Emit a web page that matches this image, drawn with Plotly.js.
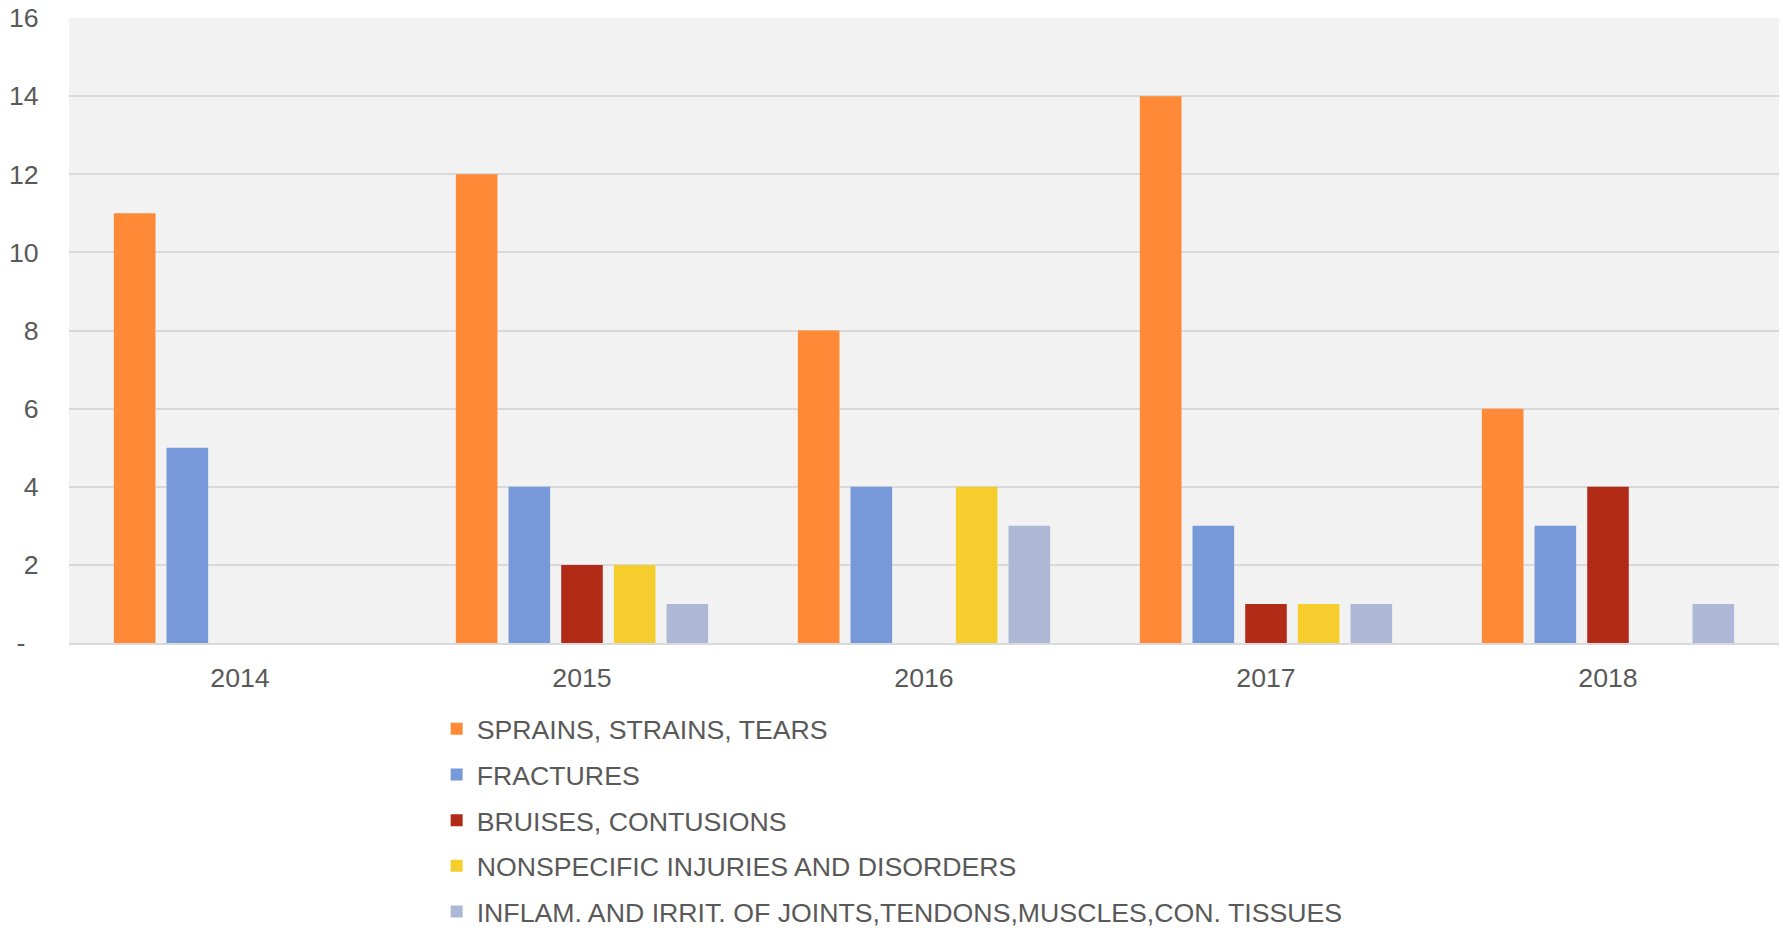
<!DOCTYPE html>
<html>
<head>
<meta charset="utf-8">
<script src="https://cdn.plot.ly/plotly-3.0.1.min.js"></script>
<style>
  html, body { margin: 0; padding: 0; background: #fff; }
  #chart { width: 1783px; height: 928px; }
</style>
</head>
<body>
<div id="chart"></div>
<script>
const years = ['2014', '2015', '2016', '2017', '2018']
const sprains = [11, 12, 8, 14, 6]
const fractures = [5, 4, 4, 3, 3]
const bruises = [0, 2, 0, 1, 4]
const nonspecific = [0, 2, 4, 1, 0]
const inflam = [0, 1, 3, 1, 1]

const seriesNames = [
  'SPRAINS, STRAINS, TEARS',
  'FRACTURES',
  'BRUISES, CONTUSIONS',
  'NONSPECIFIC INJURIES AND DISORDERS',
  'INFLAM. AND IRRIT. OF JOINTS,TENDONS,MUSCLES,CON. TISSUES',
]
const seriesValues = [sprains, fractures, bruises, nonspecific, inflam]
const colors = ['#fe8936', '#7799d9', '#b22b17', '#f5ce2e', '#acb8d6']

const yTicks = [0, 2, 4, 6, 8, 10, 12, 14, 16]
// accounting-style zero, padded like the spreadsheet does
const yTickText = ['-\u2002', '2', '4', '6', '8', '10', '12', '14', '16']

const data = seriesNames.map((name, i) => ({
  type: 'bar',
  name,
  x: years,
  y: seriesValues[i],
  marker: { color: colors[i] },
  legendgroup: 'g' + i,
}))

const layout = {
  width: 1783,
  height: 928,
  paper_bgcolor: '#ffffff',
  plot_bgcolor: '#f2f2f2',
  font: { family: 'Liberation Sans, Arial, sans-serif', size: 26.7, color: '#595959' },
  margin: { l: 69, r: 4, t: 18, b: 285, autoexpand: false },
  barmode: 'group',
  bargap: 0.23,
  bargroupgap: 0.21,
  xaxis: {
    type: 'category',
    showgrid: false,
    showline: true,
    linecolor: '#d9d9d9',
    linewidth: 2,
    ticks: 'outside',
    ticklen: 10,
    tickcolor: 'rgba(0,0,0,0)',
    tickfont: { size: 26.7, color: '#595959' },
  },
  yaxis: {
    range: [0, 16],
    tickvals: yTicks,
    ticktext: yTickText,
    showgrid: true,
    gridcolor: '#d9d9d9',
    gridwidth: 2,
    zeroline: false,
    ticks: 'outside',
    ticklen: 24,
    tickcolor: 'rgba(0,0,0,0)',
    tickfont: { size: 26.7, color: '#595959' },
  },
  showlegend: true,
  legend: {
    orientation: 'v',
    x: 0.215,
    xanchor: 'left',
    y: -0.099,
    yanchor: 'top',
    traceorder: 'grouped',
    tracegroupgap: 8,
    font: { size: 26.7, color: '#595959' },
    bgcolor: 'rgba(0,0,0,0)',
  },
}

Plotly.newPlot('chart', data, layout, { displayModeBar: false })
</script>
</body>
</html>
